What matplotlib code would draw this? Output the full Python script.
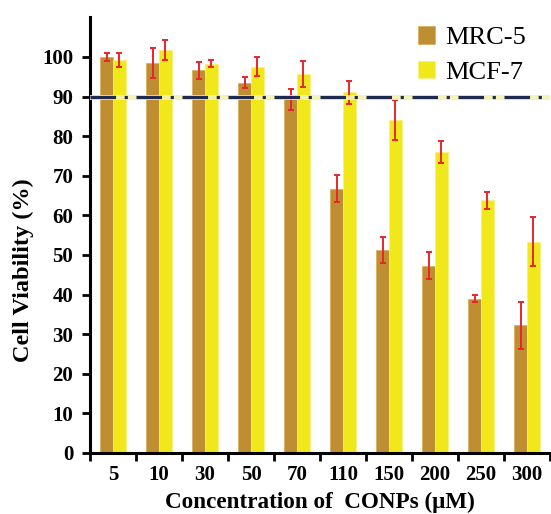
import matplotlib
matplotlib.use("Agg")
import matplotlib.pyplot as plt
import numpy as np

categories = ["5", "10", "30", "50", "70", "110", "150", "200", "250", "300"]
mrc5 = [100.0, 98.4, 96.6, 93.5, 89.3, 66.7, 51.3, 47.3, 39.0, 32.2]
mrc5_err = [1.0, 3.8, 2.1, 1.4, 2.7, 3.4, 3.2, 3.4, 0.9, 5.9]
mcf7 = [99.2, 101.8, 98.3, 97.5, 95.7, 91.1, 84.1, 76.1, 63.8, 53.4]
mcf7_err = [1.7, 2.6, 0.9, 2.4, 3.2, 2.9, 5.1, 2.8, 2.2, 6.2]
y_ticks = [0, 10, 20, 30, 40, 50, 60, 70, 80, 90, 100]
threshold = 90

serif = ["Liberation Serif", "DejaVu Serif"]

fig = plt.figure(figsize=(5.51, 5.14), dpi=100)
ax = fig.add_axes([90/551, 1-453/514, 460/551, (453-17.4)/514])

x = np.arange(len(categories))
w = 0.28
brown = "#BF8D32"
yellow = "#F1E81C"
ax.bar(x - w/2, mrc5, w, color=brown, edgecolor="#D9B060", linewidth=0.6, label="MRC-5", zorder=2)
ax.bar(x + w/2, mcf7, w, color=yellow, edgecolor="#F7F080", linewidth=0.6, label="MCF-7", zorder=2)
ax.errorbar(x - w/2, mrc5, yerr=mrc5_err, fmt="none", ecolor="#E8262B", elinewidth=1.4, capsize=2, capthick=1.4, zorder=4)
ax.errorbar(x + w/2, mcf7, yerr=mcf7_err, fmt="none", ecolor="#E8262B", elinewidth=1.4, capsize=2, capthick=1.4, zorder=4)

ax.axhline(threshold, color="#F6F2B0", linewidth=3.6, zorder=5, alpha=0.9)
ax.axhline(threshold, color="#1E2A4F", linewidth=2.3, dashes=(8, 2.7, 1, 2.7), zorder=6)

ax.set_xlim(-0.5, len(categories) - 0.5)
ax.set_ylim(0, 110)
ax.set_yticks(y_ticks)
ax.set_yticklabels([str(t) for t in y_ticks], family=serif, fontweight="bold", fontsize=15)
ax.set_xticks(x)
ax.set_xticklabels(categories, family=serif, fontweight="bold", fontsize=15)
ax.set_xticks(np.arange(-0.5, len(categories) + 0.5, 1), minor=True)
ax.tick_params(axis="x", which="major", length=0, pad=9)
ax.tick_params(axis="x", which="minor", length=6, width=2, direction="out")
ax.tick_params(axis="y", which="major", length=6, width=2, direction="out", pad=6)

for s in ["top", "right"]:
    ax.spines[s].set_visible(False)
for s in ["left", "bottom"]:
    ax.spines[s].set_linewidth(2.2)

ax.set_ylabel("Cell Viability (%)", family=serif, fontweight="bold", fontsize=17.5)
ax.yaxis.set_label_coords(-0.122, 0.42)
ax.set_xlabel("Concentration of  CONPs (\u03bcM)", family=serif, fontweight="bold", fontsize=16.7)
ax.xaxis.set_label_coords(0.5, -0.09)

leg = ax.legend(loc="upper right", bbox_to_anchor=(1.0, 1.035), frameon=False,
                prop={"family": serif, "size": 19}, handlelength=0.65, handleheight=0.65,
                handletextpad=0.4, labelspacing=0.45)

fig.savefig("out.png", dpi=100)
